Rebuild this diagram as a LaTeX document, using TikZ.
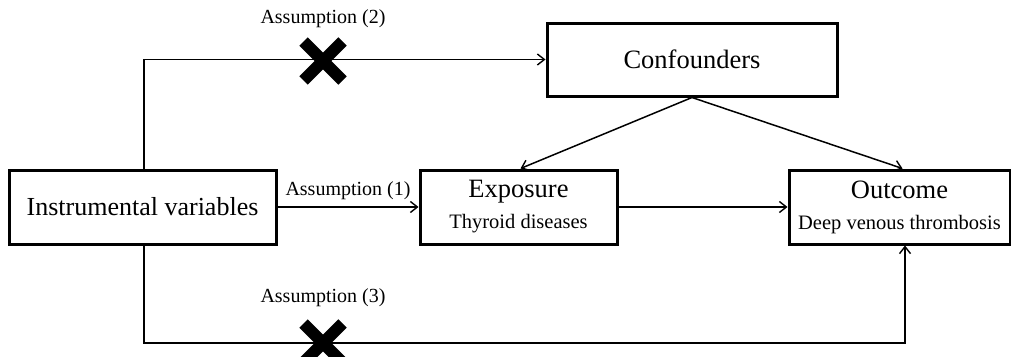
\documentclass[tikz,border=0pt]{standalone}
\usepackage{fontspec}
\setmainfont{Liberation Serif}
\usetikzlibrary{arrows.meta,shapes.misc}
\tikzset{
  box/.style={draw, line width=3pt, rectangle, inner sep=0pt, align=center},
  conn/.style={line width=1.5pt},
  arr/.style={conn, -{Straight Barb[length=7pt,width=11pt,line width=1.4pt]}},
  xmark/.style={cross out, draw, line width=12pt, minimum size=27pt, inner sep=0pt},
  lab/.style={font=\fontsize{20}{24}\selectfont, inner sep=0pt},
}
\begin{document}
\begin{tikzpicture}[x=1pt,y=-1pt]
\useasboundingbox (0,0) rectangle (1011,356);
\node[box, minimum width=267pt, minimum height=74pt, font=\fontsize{26}{30}\selectfont] (iv) at (142.5,207) {Instrumental variables};
\node[box, minimum width=290pt, minimum height=73pt, font=\fontsize{26.5}{30}\selectfont] (conf) at (692,59.5) {Confounders};
\node[box, minimum width=197pt, minimum height=74pt, font=\fontsize{20.5}{31}\selectfont] (expo) at (518.5,207) {{\fontsize{26.5}{31}\selectfont Exposure}\\Thyroid diseases};
\node[box, minimum width=221pt, minimum height=74pt, font=\fontsize{20.5}{31}\selectfont] (out) at (899.5,207) {{\fontsize{26.5}{31}\selectfont Outcome}\\Deep venous thrombosis};
\node[lab] (a2) at (323,19) {Assumption (2)};
\node[lab] (a3) at (323,298) {Assumption (3)};
\node[lab] (a1) at (348,191) {Assumption (1)};
\draw[arr] ([xshift=1.5pt]iv.north) |- (conf.west);
\draw[arr] (iv.east) -- (expo.west);
\draw[arr] (expo.east) -- (out.west);
\draw[arr] (conf.south) -- ([xshift=2pt]expo.north);
\draw[arr] (conf.south) -- ([xshift=3pt]out.north);
\coordinate (bl) at (144,343);
\draw[arr] ([xshift=1.5pt]iv.south) -- (bl) -| ([xshift=5.5pt]out.south);
\node[xmark] (x2) at (323,61) {};
\node[xmark] (x3) at (323,343) {};
\end{tikzpicture}
\end{document}
